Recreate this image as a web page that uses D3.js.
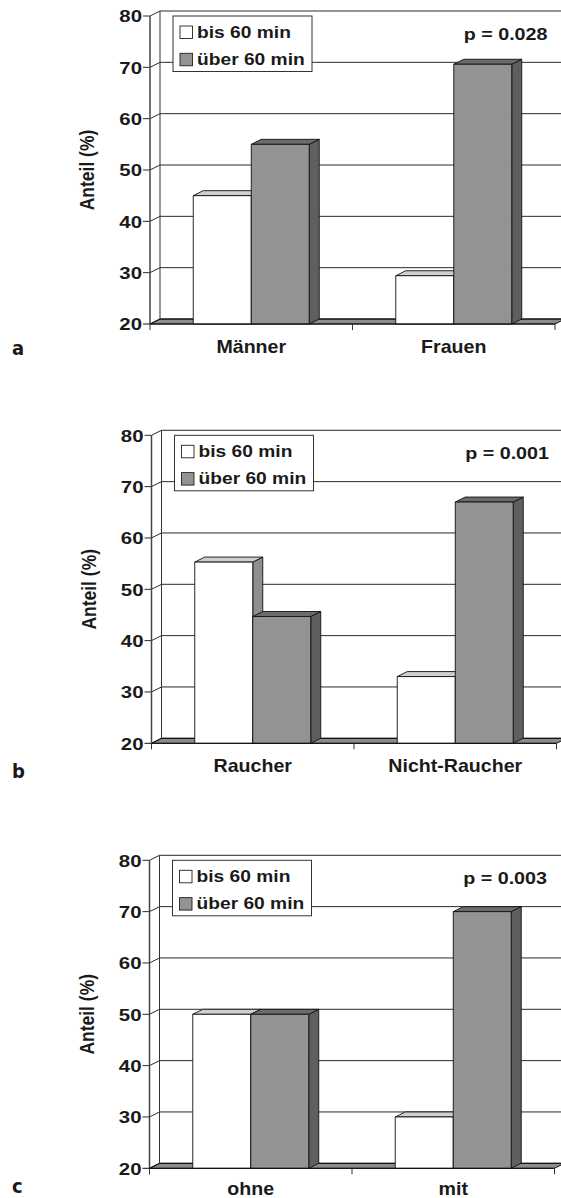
<!DOCTYPE html>
<html>
<head>
<meta charset="utf-8">
<script src="https://cdn.jsdelivr.net/npm/d3@7"></script>
<style>
  html, body { margin: 0; padding: 0; background: #fff; }
  svg { display: block; }
  text { font-family: "Liberation Sans", Arial, Helvetica, sans-serif; font-weight: bold; fill: #1a1a1a; }
  .letter { font-family: "Liberation Sans Narrow", "DejaVu Sans Condensed", sans-serif; }
</style>
</head>
<body>
<svg id="chart" width="561" height="1198"></svg>
<script>
// Series shared by all three panels
const seriesNames = ["bis 60 min", "über 60 min"];
const yTicks = [20, 30, 40, 50, 60, 70, 80];
const yTitle = "Anteil (%)";

// Panel a: sex
const categoriesA = ["Männer", "Frauen"];
const bis60A = [45, 29.4];
const ueber60A = [55, 70.6];

// Panel b: smoking
const categoriesB = ["Raucher", "Nicht-Raucher"];
const bis60B = [55.3, 33];
const ueber60B = [44.7, 67];

// Panel c: ohne / mit
const categoriesC = ["ohne", "mit"];
const bis60C = [50, 30];
const ueber60C = [50, 70];

const pLabels = ["p = 0.028", "p = 0.001", "p = 0.003"];
const panelLetters = ["a", "b", "c"];

// Layout of each panel: front-left corner of the floor
const panels = [
  { cats: categoriesA, s1: bis60A, s2: ueber60A, p: pLabels[0], letter: panelLetters[0], left: 150,   base: 324,    labelDy: 29,   letterY: 355 },
  { cats: categoriesB, s1: bis60B, s2: ueber60B, p: pLabels[1], letter: panelLetters[1], left: 151.5, base: 743.3,  labelDy: 29,   letterY: 778 },
  { cats: categoriesC, s1: bis60C, s2: ueber60C, p: pLabels[2], letter: panelLetters[2], left: 149.5, base: 1168.3, labelDy: 27,   letterY: 1193 }
];

const plotW = 405, plotH = 308;
const dx = 10, dy = -5;           // depth offset of the 3D walls and bars
const fills = ["#ffffff", "#939396"];
const topFills = ["#cfcfcf", "#6b6b6d"];
const sideFills = ["#8e8e8e", "#5f5f61"];

const svg = d3.select("#chart");

function stretchedText(g, str, x, y, sx, size, anchor, cls) {
  return g.append("text")
    .attr("class", cls || null)
    .attr("transform", `translate(${x},${y}) scale(${sx},1)`)
    .attr("font-size", size)
    .attr("text-anchor", anchor)
    .text(str);
}

panels.forEach(P => {
  const g = svg.append("g");
  const y = d3.scaleLinear().domain([20, 80]).range([P.base, P.base - plotH]);
  const x0 = d3.scaleBand().domain(P.cats).range([P.left, P.left + plotW]).paddingInner(0).paddingOuter(0);
  const x1 = d3.scaleBand().domain(seriesNames).range([0, x0.bandwidth()]).paddingInner(0).paddingOuter(0.746);

  // floor
  g.append("path")
    .attr("d", d3.line()([[P.left, P.base], [P.left + plotW, P.base], [P.left + plotW + dx, P.base + dy], [P.left + dx, P.base + dy]]) + "Z")
    .attr("fill", "#8c8c8c").attr("stroke", "#111").attr("stroke-width", 1);

  // gridlines: diagonal across the side wall, then along the back wall
  yTicks.forEach(t => {
    const yy = y(t);
    g.append("path")
      .attr("d", d3.line()([[P.left - 7, yy], [P.left, yy], [P.left + dx, yy + dy], [P.left + plotW + dx + 20, yy + dy]]))
      .attr("fill", "none").attr("stroke", t === 20 ? "#111" : "#2a2a2a").attr("stroke-width", 1);
  });

  // back wall left edge
  g.append("line")
    .attr("x1", P.left + dx).attr("x2", P.left + dx)
    .attr("y1", y(80) + dy).attr("y2", P.base + dy)
    .attr("stroke", "#333").attr("stroke-width", 1);

  // front vertical axis
  g.append("line")
    .attr("x1", P.left).attr("x2", P.left)
    .attr("y1", y(80)).attr("y2", P.base)
    .attr("stroke", "#444").attr("stroke-width", 1.5);

  // bars
  P.cats.forEach((c, i) => {
    [P.s1[i], P.s2[i]].forEach((v, si) => {
      const bx = x0(c) + x1(seriesNames[si]);
      const w = x1.bandwidth();
      const yt = y(v);
      const bg = g.append("g").attr("stroke", "#111").attr("stroke-width", 0.9).attr("stroke-linejoin", "round");
      bg.append("path")
        .attr("d", d3.line()([[bx + w, yt], [bx + w + dx, yt + dy], [bx + w + dx, P.base + dy], [bx + w, P.base]]) + "Z")
        .attr("fill", sideFills[si]);
      bg.append("path")
        .attr("d", d3.line()([[bx, yt], [bx + dx, yt + dy], [bx + w + dx, yt + dy], [bx + w, yt]]) + "Z")
        .attr("fill", topFills[si]);
      bg.append("rect")
        .attr("x", bx).attr("y", yt).attr("width", w).attr("height", P.base - yt)
        .attr("fill", fills[si]);
    });
  });

  // front baseline and category ticks
  g.append("line")
    .attr("x1", P.left).attr("x2", P.left + plotW)
    .attr("y1", P.base).attr("y2", P.base)
    .attr("stroke", "#111").attr("stroke-width", 1);
  const bounds = P.cats.map(c => x0(c)).concat([P.left + plotW]);
  bounds.forEach(bx => {
    g.append("line")
      .attr("x1", bx).attr("x2", bx)
      .attr("y1", P.base).attr("y2", P.base + 6)
      .attr("stroke", "#333").attr("stroke-width", 1);
  });

  // y tick labels
  yTicks.forEach(t => {
    stretchedText(g, t, P.left - 8, y(t) + 6.2, 1.2, 17, "end");
  });

  // y axis title
  g.append("text")
    .attr("transform", `translate(${P.left - 56},${y(50)}) scale(1.15,1) rotate(-90)`)
    .attr("font-size", 17.5)
    .attr("text-anchor", "middle")
    .text(yTitle);

  // category labels
  P.cats.forEach(c => {
    stretchedText(g, c, x0(c) + x0.bandwidth() / 2, P.base + P.labelDy, 1.06, 18.5, "middle");
  });

  // legend
  const lx = P.left + 23, ly = y(80);
  const lg = g.append("g");
  lg.append("rect")
    .attr("x", lx).attr("y", ly).attr("width", 139).attr("height", 55.5)
    .attr("fill", "#fff").attr("stroke", "#333").attr("stroke-width", 1);
  seriesNames.forEach((s, si) => {
    const ry = ly + 10 + si * 27.3;
    lg.append("rect")
      .attr("x", lx + 7).attr("y", ry).attr("width", 12.5).attr("height", 12.5)
      .attr("fill", fills[si]).attr("stroke", "#222").attr("stroke-width", 0.9);
    stretchedText(lg, s, lx + 24, ry + 11.5, 1.13, 17, "start");
  });

  // significance label
  stretchedText(g, P.p, P.left + 397.5, y(80) + 23.5, 1.16, 17, "end");

  // panel letter
  g.append("text")
    .attr("class", "letter")
    .attr("x", 12).attr("y", P.letterY)
    .attr("font-size", 20)
    .text(P.letter);
});
</script>
</body>
</html>
